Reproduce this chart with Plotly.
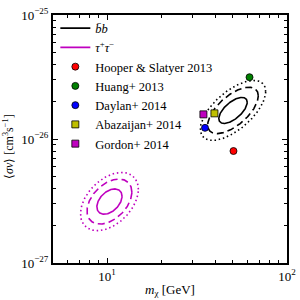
import numpy as np
import plotly.graph_objects as go

# ---- data -------------------------------------------------------------
channel_names = ["<i>b̄b</i>", "<i>τ</i><sup>+</sup><i>τ</i><sup>−</sup>"]
channel_colors = ["black", "#bf00bf"]
center_mass = [50.1, 10.3]          # GeV
center_sv = [1.70e-26, 3.13e-27]    # cm^3 s^-1
sigma_logm = [0.079, 0.070]         # decades
sigma_logsv = [0.105, 0.102]        # decades
corr = [0.63, 0.42]
contour_scales = [1.0, 1.78, 2.3]
contour_dashes = ["solid", "7px,4px", "1.5px,2.8px"]

point_names = ["Hooper &amp; Slatyer 2013", "Huang+ 2013", "Daylan+ 2014",
               "Abazaijan+ 2014", "Gordon+ 2014"]
point_mass = [50.4, 61.9, 35.0, 39.5, 34.3]
point_sv = [8.0e-27, 3.15e-26, 1.23e-26, 1.61e-26, 1.58e-26]
point_colors = ["#ff0000", "#008000", "#0000ff", "#bfbf00", "#bf00bf"]
point_symbols = ["circle", "circle", "circle", "square", "square"]

x_range = [5, 100]
y_range = [1e-27, 1e-25]
x_ticks = [10, 100]
x_ticktext = ["10<sup>1</sup>", "10<sup>2</sup>"]
y_ticks = [1e-27, 1e-26, 1e-25]
y_ticktext = ["10<sup>−27</sup>", "10<sup>−26</sup>", "10<sup>−25</sup>"]
x_title = "<i>m</i><sub>χ</sub> [GeV]"
y_title = "⟨<i>σv</i>⟩ [cm<sup>3</sup>s<sup>−1</sup>]"

FONT = "Liberation Serif"

fig = go.Figure()
t = np.linspace(0, 2 * np.pi, 241)
for name, col, cm, cs, sx, sy, r in zip(channel_names, channel_colors, center_mass,
                                        center_sv, sigma_logm, sigma_logsv, corr):
    for k, (sc, dash) in enumerate(zip(contour_scales, contour_dashes)):
        lx = np.log10(cm) + sc * sx * np.cos(t)
        ly = np.log10(cs) + sc * sy * (r * np.cos(t) + np.sqrt(1 - r * r) * np.sin(t))
        fig.add_trace(go.Scatter(
            x=10 ** lx, y=10 ** ly, mode="lines", name=name,
            line=dict(color=col, width=1.6, dash=dash),
            showlegend=(k == 0), hoverinfo="skip"))

for n, m, s, c, sym in zip(point_names, point_mass, point_sv, point_colors, point_symbols):
    fig.add_trace(go.Scatter(
        x=[m], y=[s], mode="markers", name=n,
        marker=dict(color=c, symbol=sym, size=7, line=dict(color="black", width=0.8))))

axis_common = dict(type="log", showgrid=False, zeroline=False, showline=True,
                   linecolor="black", linewidth=2, mirror="ticks", ticks="inside",
                   ticklen=5, tickwidth=1, tickcolor="black", automargin=False,
                   tickfont=dict(family=FONT, size=13, color="black"),
                   minor=dict(ticks="inside", ticklen=3, tickwidth=0.8,
                              tickcolor="black", dtick="D1", showgrid=False))

fig.update_xaxes(**axis_common, range=[np.log10(x_range[0]), np.log10(x_range[1])],
                 tickmode="array", tickvals=x_ticks, ticktext=x_ticktext,
                 title=dict(text=x_title, standoff=2,
                            font=dict(family=FONT, size=13, color="black")))
fig.update_yaxes(**axis_common, range=[np.log10(y_range[0]), np.log10(y_range[1])],
                 tickmode="array", tickvals=y_ticks, ticktext=y_ticktext)

fig.add_annotation(text=y_title, textangle=-90, xref="paper", yref="paper",
                   x=-0.19, y=0.47, xanchor="center", yanchor="middle",
                   showarrow=False, font=dict(family=FONT, size=12, color="black"))

fig.update_layout(
    width=300, height=300,
    margin=dict(l=53, r=13, t=15, b=37),
    paper_bgcolor="white", plot_bgcolor="white",
    font=dict(family=FONT, size=12, color="black"),
    legend=dict(x=0.01, y=1.006, xanchor="left", yanchor="top",
                bgcolor="rgba(0,0,0,0)", borderwidth=0,
                font=dict(family=FONT, size=12.5, color="black"),
                itemwidth=30, tracegroupgap=0),
)

fig.write_html("out.html", config={"displayModeBar": False},
               post_script="document.body.style.margin='0';document.body.style.padding='0';"
                           "document.body.style.overflow='hidden';")
